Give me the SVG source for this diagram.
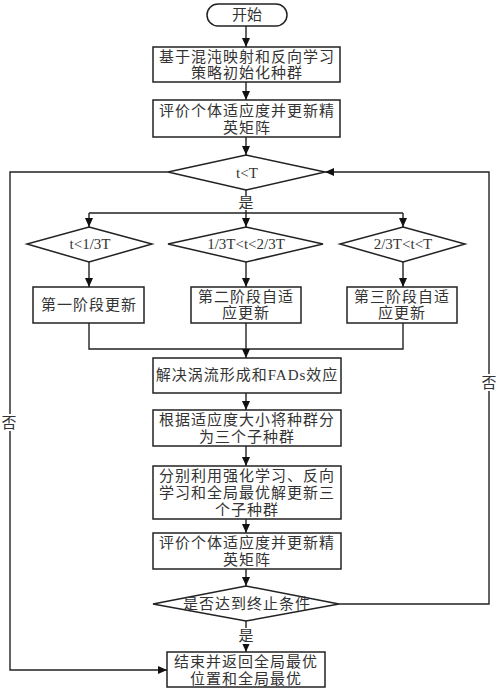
<svg xmlns="http://www.w3.org/2000/svg" width="500" height="693" viewBox="0 0 500 693">
<defs>
<marker id="ah" markerWidth="10" markerHeight="10" refX="9" refY="5" orient="auto" markerUnits="userSpaceOnUse">
<path d="M0,1 L9,5 L0,9 Z" fill="#111"/>
</marker>
<style>
.n{fill:#fff;stroke:#222;stroke-width:1.5}
.c{fill:none;stroke:#222;stroke-width:1.4}
.t{font-family:"Liberation Serif","Noto Sans CJK SC",serif;font-size:15px;fill:#333;text-anchor:middle;letter-spacing:1px}
.m{font-family:"Liberation Serif","Noto Sans CJK SC",serif;font-size:15px;fill:#333;text-anchor:middle}
</style>
</defs>
<rect width="500" height="693" fill="#fff"/>
<g id="connectors">
<path class="c" d="M246,26 V47" marker-end="url(#ah)"/>
<path class="c" d="M246,82 V100" marker-end="url(#ah)"/>
<path class="c" d="M246,137 V155" marker-end="url(#ah)"/>
<path class="c" d="M246,190 V213 M89,213 H403"/>
<path class="c" d="M89,213 V227" marker-end="url(#ah)"/>
<path class="c" d="M246,213 V227" marker-end="url(#ah)"/>
<path class="c" d="M403,213 V227" marker-end="url(#ah)"/>
<path class="c" d="M89,262 V287" marker-end="url(#ah)"/>
<path class="c" d="M246,262 V287" marker-end="url(#ah)"/>
<path class="c" d="M403,262 V287" marker-end="url(#ah)"/>
<path class="c" d="M89,323 V349 H403 V323 M246,323 V349"/>
<path class="c" d="M246,349 V358" marker-end="url(#ah)"/>
<path class="c" d="M246,393 V410" marker-end="url(#ah)"/>
<path class="c" d="M246,446 V466" marker-end="url(#ah)"/>
<path class="c" d="M246,519 V533" marker-end="url(#ah)"/>
<path class="c" d="M246,569 V586" marker-end="url(#ah)"/>
<path class="c" d="M246,621 V652" marker-end="url(#ah)"/>
<path class="c" d="M339,604 H489 V172 H325" marker-end="url(#ah)"/>
<path class="c" d="M168,172 H10 V670 H167" marker-end="url(#ah)"/>
<rect x="236" y="196" width="20" height="14" fill="#fff"/>
<text class="m" x="246" y="208">是</text>
<rect x="236" y="628" width="20" height="16" fill="#fff"/>
<text class="m" x="246" y="641">是</text>
<rect x="481" y="374" width="16" height="17" fill="#fff"/>
<text class="m" x="489" y="388">否</text>
<rect x="1" y="414" width="16" height="17" fill="#fff"/>
<text class="m" x="9" y="428">否</text>
</g>
<g id="start">
<rect class="n" x="207" y="4" width="80" height="22" rx="11"/>
<text class="m" x="247" y="20">开始</text>
</g>
<g id="init">
<rect class="n" x="153" y="47" width="187" height="35"/>
<text class="t" x="247" y="62">基于混沌映射和反向学习</text>
<text class="t" x="247" y="78">策略初始化种群</text>
</g>
<g id="eval1">
<rect class="n" x="153" y="100" width="187" height="37"/>
<text class="t" x="247" y="116">评价个体适应度并更新精</text>
<text class="t" x="247" y="133">英矩阵</text>
</g>
<g id="cond">
<polygon class="n" points="246,155 325,172 246,190 168,172"/>
<text class="m" x="247" y="178">t&lt;T</text>
</g>
<g id="d1">
<polygon class="n" points="89,227 152,244 89,262 27,244"/>
<text class="m" x="90" y="249">t&lt;1/3T</text>
</g>
<g id="d2">
<polygon class="n" points="246,227 323,244 246,262 168,244"/>
<text class="m" x="246" y="249">1/3T&lt;t&lt;2/3T</text>
</g>
<g id="d3">
<polygon class="n" points="403,227 465,244 403,262 340,244"/>
<text class="m" x="403" y="249">2/3T&lt;t&lt;T</text>
</g>
<g id="s1">
<rect class="n" x="33" y="287" width="111" height="36"/>
<text class="t" x="89" y="310">第一阶段更新</text>
</g>
<g id="s2">
<rect class="n" x="191" y="287" width="110" height="36"/>
<text class="t" x="246" y="302">第二阶段自适</text>
<text class="t" x="246" y="318">应更新</text>
</g>
<g id="s3">
<rect class="n" x="347" y="287" width="110" height="36"/>
<text class="t" x="402" y="302">第三阶段自适</text>
<text class="t" x="402" y="318">应更新</text>
</g>
<g id="fads">
<rect class="n" x="153" y="358" width="188" height="35"/>
<text class="t" x="247" y="380">解决涡流形成和FADs效应</text>
</g>
<g id="split">
<rect class="n" x="153" y="410" width="188" height="36"/>
<text class="t" x="247" y="425">根据适应度大小将种群分</text>
<text class="t" x="247" y="442">为三个子种群</text>
</g>
<g id="update">
<rect class="n" x="153" y="466" width="188" height="53"/>
<text class="t" x="247" y="481">分别利用强化学习、反向</text>
<text class="t" x="247" y="498">学习和全局最优解更新三</text>
<text class="t" x="247" y="515">个子种群</text>
</g>
<g id="eval2">
<rect class="n" x="153" y="533" width="188" height="36"/>
<text class="t" x="247" y="548">评价个体适应度并更新精</text>
<text class="t" x="247" y="565">英矩阵</text>
</g>
<g id="stop">
<polygon class="n" points="246,586 339,604 246,621 153,604"/>
<text class="t" x="247" y="609">是否达到终止条件</text>
</g>
<g id="end">
<rect class="n" x="167" y="652" width="158" height="35"/>
<text class="t" x="246" y="667">结束并返回全局最优</text>
<text class="t" x="246" y="684">位置和全局最优</text>
</g>
</svg>
